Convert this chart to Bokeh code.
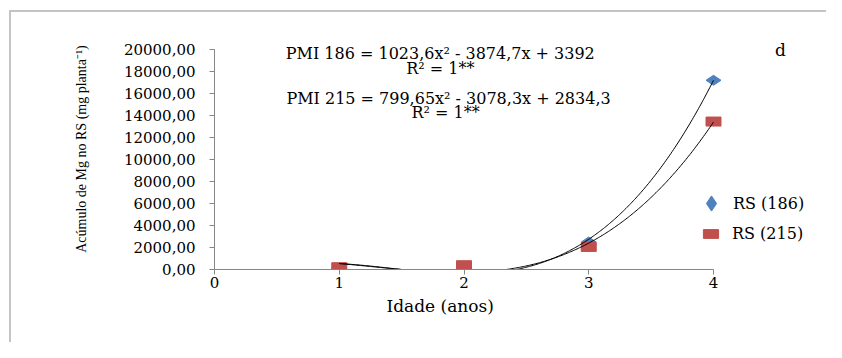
import numpy as np
from math import pi
from bokeh.plotting import figure
from bokeh.models import Range1d, FixedTicker, Label, Legend, LegendItem, Title
from bokeh.embed import file_html
from bokeh.resources import INLINE

# ---- data ----
idade = [1, 2, 3, 4]
rs_186 = [150, 20, 2500, 17200]
rs_215 = [210, 390, 2050, 13450]
# trend-line heights at each age (cubic through them)
trend_186 = [540, -410, 2750, 17200]
trend_215 = [540, -273, 2400, 13400]

x_ticks = [0, 1, 2, 3, 4]
y_ticks = [0, 2000, 4000, 6000, 8000, 10000, 12000, 14000, 16000, 18000, 20000]
y_tick_labels = ["0,00", "2000,00", "4000,00", "6000,00", "8000,00", "10000,00",
                 "12000,00", "14000,00", "16000,00", "18000,00", "20000,00"]

series_labels = ["RS (186)", "RS (215)"]
eq_186 = "PMI 186 = 1023,6x\u00b2 - 3874,7x + 3392"
eq_215 = "PMI 215 = 799,65x\u00b2 - 3078,3x + 2834,3"
r2_text = "R\u00b2 = 1**"
panel_letter = "d"
x_title = "Idade (anos)"
y_title = "Ac\u00famulo de Mg no RS (mg planta\u207b\u00b9)"

BLUE = "#4F81BD"
RED = "#C0504D"
AXIS = "#868686"
FONT = "DejaVu Serif"

# ---- layout (pixels) ----
W, H = 826, 342
FRAME_LEFT, AXIS_RIGHT, AXIS_TOP, AXIS_BOTTOM = 214, 713, 49, 269
x_end = 4 * (W - FRAME_LEFT) / (AXIS_RIGHT - FRAME_LEFT)
y_end = 20000 * AXIS_BOTTOM / (AXIS_BOTTOM - AXIS_TOP)

p = figure(width=W, height=H,
           x_range=Range1d(0, x_end), y_range=Range1d(0, y_end),
           output_backend="svg", toolbar_location=None,
           min_border_left=FRAME_LEFT, min_border_right=0,
           min_border_top=0, min_border_bottom=H - AXIS_BOTTOM)
p.grid.visible = False
p.outline_line_color = None
p.background_fill_color = None
p.border_fill_color = None
p.styles = {
    "background-color": "white",
    "background-image": "linear-gradient(#c4c4c4, #c4c4c4), linear-gradient(#c4c4c4, #c4c4c4)",
    "background-position": "9px 10px, 9px 10px",
    "background-size": "100% 2px, 2px 100%",
    "background-repeat": "no-repeat, no-repeat",
}

for ax in (p.xaxis[0], p.yaxis[0]):
    ax.axis_line_color = AXIS
    ax.major_tick_line_color = AXIS
    ax.major_tick_in = 0
    ax.major_tick_out = 5
    ax.minor_tick_line_color = None
    ax.major_label_text_font = FONT
    ax.major_label_text_font_size = "15px"
    ax.major_label_text_color = "black"
    ax.axis_label_text_font_style = "normal"
    ax.axis_label_text_color = "black"

p.xaxis.bounds = (0, 4)
p.yaxis.bounds = (0, 20000)
p.xaxis.ticker = FixedTicker(ticks=x_ticks)
p.yaxis.ticker = FixedTicker(ticks=y_ticks)
p.yaxis.major_label_overrides = dict(zip(y_ticks, y_tick_labels))
p.xaxis.major_label_standoff = 2
p.yaxis.major_label_standoff = 14

# x title placed under the axis, left-aligned with an offset so it centres near x=2
p.add_layout(Title(text=x_title, align="left", offset=172, standoff=6,
                   text_font=FONT, text_font_size="17px", text_font_style="normal",
                   text_color="black"), "below")

# y title: trailing no-break spaces shift its centre toward the axis' middle
p.yaxis.axis_label = y_title + "\u00a0" * 8
p.yaxis.axis_label_text_font = "Liberation Serif"
p.yaxis.axis_label_text_font_size = "14px"
p.yaxis.axis_label_standoff = 32

blue_r = p.scatter(idade, rs_186, marker="diamond", size=15, angle=pi / 2,
                   fill_color=BLUE, line_color=BLUE)
red_r = p.rect(idade, rs_215, width=15, height=9, width_units="screen",
               height_units="screen", fill_color=RED, line_color=RED)

xs = np.linspace(1, 4, 300)
c186 = np.polyfit(idade, trend_186, 3)
c215 = np.polyfit(idade, trend_215, 3)
p.line(xs, np.polyval(c186, xs), line_color="black", line_width=1)
p.line(xs, np.polyval(c215, xs), line_color="black", line_width=1)

def add_label(x, y, text, size="16px"):
    p.add_layout(Label(x=x, y=y, text=text, text_font=FONT, text_font_size=size,
                       text_align="center", text_baseline="middle", text_color="black"))

add_label(1.81, 19600, eq_186)
add_label(1.81, 18280, r2_text)
add_label(1.876, 15560, eq_215)
add_label(1.853, 14240, r2_text)
add_label(4.537, 20000, panel_letter, "17px")

leg1 = Legend(items=[LegendItem(label=series_labels[0], renderers=[blue_r])],
              location=(478, 47), glyph_width=38, glyph_height=38, label_height=38,
              label_standoff=3)
leg2 = Legend(items=[LegendItem(label=series_labels[1], renderers=[red_r])],
              location=(487, 26), glyph_width=19, glyph_height=11, label_height=11,
              label_standoff=12)
for leg in (leg1, leg2):
    leg.padding = 0
    leg.margin = 0
    leg.spacing = 0
    leg.border_line_color = None
    leg.background_fill_alpha = 0
    leg.label_text_font = FONT
    leg.label_text_font_size = "16px"
    leg.label_text_color = "black"
    p.add_layout(leg, "center")

open("out.html", "w").write(file_html(p, INLINE))
